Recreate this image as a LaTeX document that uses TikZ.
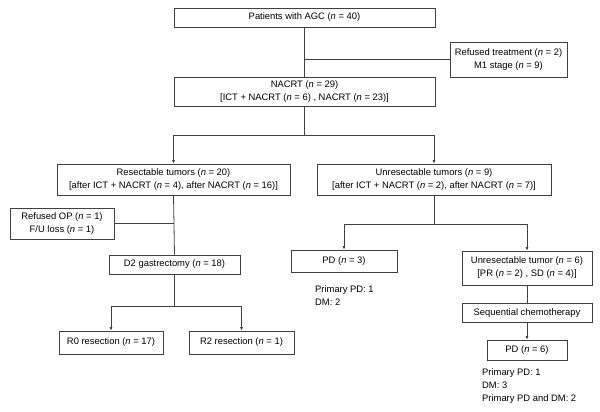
\documentclass[tikz,border=0pt]{standalone}
\usepackage{fontspec}
\setmainfont{Liberation Sans}
\usetikzlibrary{arrows.meta,positioning}
\newcommand{\nn}{\textit{n}}
\begin{document}
\begin{tikzpicture}[x=1pt,y=-1pt,
    font=\fontsize{9.4}{13}\selectfont,
    box/.style={draw=black!75,line width=0.8pt,align=center,inner sep=1pt,minimum width=#1},
    box/.default=100pt,
    link/.style={draw=black!75,line width=0.8pt},
    arr/.style={link,-{Latex[length=3.5pt,width=3pt]}}]
    \useasboundingbox (0,0) rectangle (600,412);
    \node[box=261pt,minimum height=19pt] (agc) at (304.5,17.5) {Patients with AGC (\nn{} = 40)};
    \node[box=117pt,minimum height=35pt] (refused) at (508.5,59.5) {Refused treatment (\nn{} = 2)\\M1 stage (\nn{} = 9)};
    \node[box=261pt,minimum height=29pt] (nacrt) at (304.5,91.5) {NACRT (\nn{} = 29)\\{}[ICT + NACRT (\nn{} = 6) , NACRT (\nn{} = 23)]};
    \node[box=233pt,minimum height=31pt] (resect) at (173.5,179.5) {Resectable tumors (\nn{} = 20)\\{}[after ICT + NACRT (\nn{} = 4), after NACRT (\nn{} = 16)]};
    \node[box=234pt,minimum height=31pt] (unres) at (434,179.5) {Unresectable tumors (\nn{} = 9)\\{}[after ICT + NACRT (\nn{} = 2), after NACRT (\nn{} = 7)]};
    \node[box=104pt,minimum height=31pt] (refop) at (62,223.5) {Refused OP (\nn{} = 1)\\F/U loss (\nn{} = 1)};
    \node[box=131pt,minimum height=19pt] (d2) at (174.5,264.5) {D2 gastrectomy (\nn{} = 18)};
    \node[box=104pt,minimum height=23pt] (r0) at (111,342.5) {R0 resection (\nn{} = 17)};
    \node[box=105pt,minimum height=23pt] (r2) at (241.5,342.5) {R2 resection (\nn{} = 1)};
    \node[box=106pt,minimum height=22pt] (pd3) at (344,261) {PD (\nn{} = 3)};
    \node[box=130pt,minimum height=34pt] (unres6) at (527,268) {Unresectable tumor (\nn{} = 6)\\{}[PR (\nn{} = 2) , SD (\nn{} = 4)]};
    \node[box=130pt,minimum height=19pt] (seq) at (527,313) {Sequential chemotherapy};
    \node[box=80pt,minimum height=20pt] (pd6) at (527,350) {PD (\nn{} = 6)};
    \node[anchor=north west,align=left,inner sep=0pt] (pd3note) at (315,285) {Primary PD: 1\\DM: 2};
    \node[anchor=north west,align=left,inner sep=0pt] (pd6note) at (482,368) {Primary PD: 1\\DM: 3\\Primary PD and DM: 2};
    \coordinate (split1) at (304.5,135);
    \coordinate (split2) at (174.5,306);
    \coordinate (split3) at (434,224);
    \draw[link] (agc.south) -- (nacrt.north);
    \draw[link] (agc.south |- refused.west) -- (refused.west);
    \draw[link] (nacrt.south) -- (split1);
    \draw[arr] (split1) -| (resect.north);
    \draw[arr] (split1) -| (unres.north);
    \draw[link] (resect.south) -- (d2.north);
    \draw[link] (refop.east) -- (refop.east -| resect.south);
    \draw[link] (d2.south) -- (split2);
    \draw[arr] (split2) -| (r0.north);
    \draw[arr] (split2) -| (r2.north);
    \draw[link] (unres.south) -- (split3);
    \draw[arr] (split3) -| (pd3.north);
    \draw[arr] (split3) -| (unres6.north);
    \draw[link] (unres6.south) -- (seq.north);
    \draw[arr] (seq.south) -- (pd6.north);
\end{tikzpicture}
\end{document}
